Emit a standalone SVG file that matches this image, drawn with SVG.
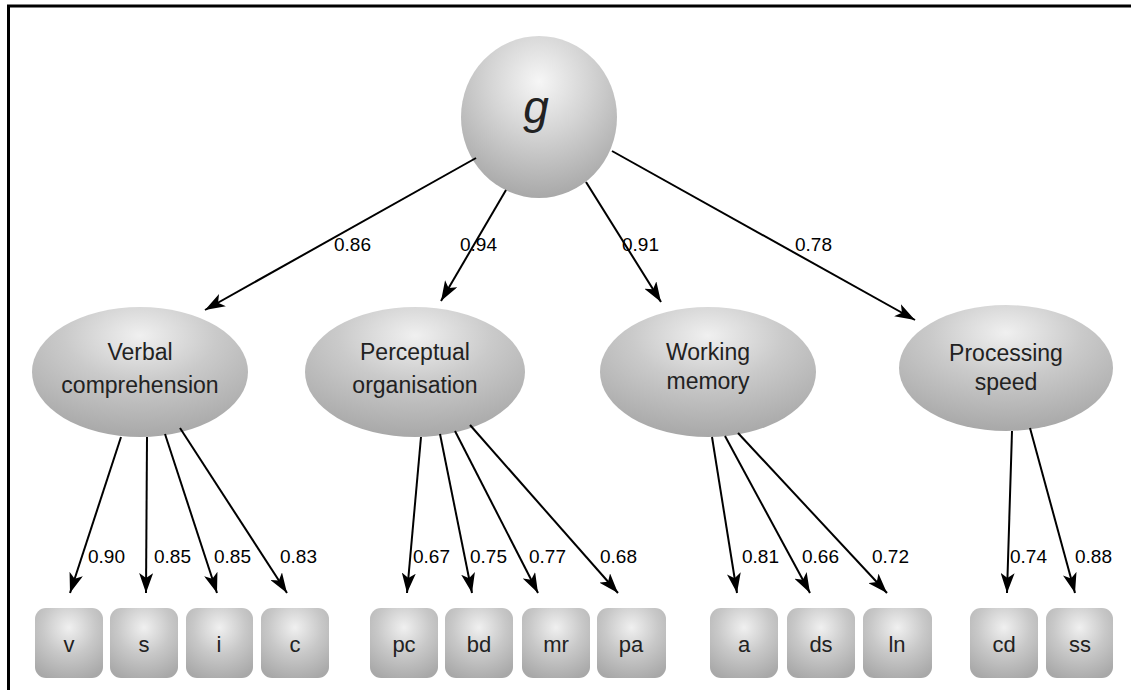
<svg xmlns="http://www.w3.org/2000/svg" width="1131" height="690" viewBox="0 0 1131 690">
<defs>
<radialGradient id="ballGrad" cx="50%" cy="28%" r="72%">
<stop offset="0" stop-color="#f6f6f6"/>
<stop offset="0.45" stop-color="#d4d4d4"/>
<stop offset="1" stop-color="#a8a8a8"/>
</radialGradient>
<radialGradient id="ellGrad" cx="50%" cy="22%" r="78%">
<stop offset="0" stop-color="#f0f0f0"/>
<stop offset="0.45" stop-color="#cacaca"/>
<stop offset="1" stop-color="#a8a8a8"/>
</radialGradient>
<radialGradient id="boxGrad" cx="50%" cy="28%" r="78%">
<stop offset="0" stop-color="#f0f0f0"/>
<stop offset="0.5" stop-color="#c8c8c8"/>
<stop offset="1" stop-color="#a8a8a8"/>
</radialGradient>
<marker id="arr" markerUnits="userSpaceOnUse" markerWidth="22" markerHeight="14" refX="20" refY="7" orient="auto">
<path d="M0,0 L20,7 L0,14 L5,7 Z" fill="#000"/>
</marker>
</defs>
<style>
.node-txt{font-family:"Liberation Sans",Arial,sans-serif;font-size:23px;fill:#222;text-anchor:middle}
.box-txt{font-family:"Liberation Sans",Arial,sans-serif;font-size:22px;fill:#222;text-anchor:middle}
.lbl{font-family:"Liberation Sans",Arial,sans-serif;font-size:19px;fill:#000}
.edge{stroke:#000;stroke-width:2;fill:none;marker-end:url(#arr)}
.ell{fill:url(#ellGrad)}
.box{fill:url(#boxGrad)}
</style>
<rect width="1131" height="690" fill="#fff"/>
<path d="M8.5,690 L8.5,6 L1131,6" fill="none" stroke="#000" stroke-width="3"/>

<g id="node-g">
<ellipse cx="539" cy="117" rx="78" ry="81" fill="url(#ballGrad)"/>
<text x="536" y="123" font-family="Liberation Sans, Arial, sans-serif" font-style="italic" font-size="46" fill="#222" text-anchor="middle">g</text>
</g>

<g id="node-verbal">
<ellipse class="ell" cx="140" cy="372" rx="108" ry="65"/>
<text class="node-txt" x="140" y="360">Verbal</text>
<text class="node-txt" x="140" y="393">comprehension</text>
</g>
<g id="node-perceptual">
<ellipse class="ell" cx="415" cy="372" rx="110" ry="65"/>
<text class="node-txt" x="415" y="360">Perceptual</text>
<text class="node-txt" x="415" y="393">organisation</text>
</g>
<g id="node-working">
<ellipse class="ell" cx="708" cy="372" rx="108" ry="65"/>
<text class="node-txt" x="708" y="360">Working</text>
<text class="node-txt" x="708" y="389">memory</text>
</g>
<g id="node-processing">
<ellipse class="ell" cx="1006" cy="368" rx="107" ry="63"/>
<text class="node-txt" x="1006" y="361">Processing</text>
<text class="node-txt" x="1006" y="390">speed</text>
</g>

<g id="node-v"><rect class="box" x="35" y="608" width="68" height="70" rx="11"/><text class="box-txt" x="69" y="652">v</text></g>
<g id="node-s"><rect class="box" x="110" y="608" width="68" height="70" rx="11"/><text class="box-txt" x="144" y="652">s</text></g>
<g id="node-i"><rect class="box" x="186" y="608" width="67" height="70" rx="11"/><text class="box-txt" x="219" y="652">i</text></g>
<g id="node-c"><rect class="box" x="261" y="608" width="68" height="70" rx="11"/><text class="box-txt" x="295" y="652">c</text></g>
<g id="node-pc"><rect class="box" x="370" y="608" width="68" height="70" rx="11"/><text class="box-txt" x="404" y="652">pc</text></g>
<g id="node-bd"><rect class="box" x="445" y="608" width="68" height="70" rx="11"/><text class="box-txt" x="479" y="652">bd</text></g>
<g id="node-mr"><rect class="box" x="522" y="608" width="68" height="70" rx="11"/><text class="box-txt" x="556" y="652">mr</text></g>
<g id="node-pa"><rect class="box" x="597" y="608" width="69" height="70" rx="11"/><text class="box-txt" x="631" y="652">pa</text></g>
<g id="node-a"><rect class="box" x="710" y="608" width="68" height="70" rx="11"/><text class="box-txt" x="744" y="652">a</text></g>
<g id="node-ds"><rect class="box" x="787" y="608" width="68" height="70" rx="11"/><text class="box-txt" x="821" y="652">ds</text></g>
<g id="node-ln"><rect class="box" x="863" y="608" width="69" height="70" rx="11"/><text class="box-txt" x="897" y="652">ln</text></g>
<g id="node-cd"><rect class="box" x="970" y="608" width="68" height="70" rx="11"/><text class="box-txt" x="1004" y="652">cd</text></g>
<g id="node-ss"><rect class="box" x="1046" y="608" width="67" height="70" rx="11"/><text class="box-txt" x="1080" y="652">ss</text></g>

<g id="connectors">
<line class="edge" x1="476" y1="158" x2="205" y2="310"/>
<line class="edge" x1="506" y1="190" x2="441" y2="301"/>
<line class="edge" x1="586" y1="182" x2="661" y2="302"/>
<line class="edge" x1="612" y1="151" x2="915" y2="320"/>

<line class="edge" x1="121" y1="437" x2="70" y2="593"/>
<line class="edge" x1="147" y1="437" x2="146" y2="593"/>
<line class="edge" x1="165" y1="434" x2="217" y2="593"/>
<line class="edge" x1="180" y1="428" x2="287" y2="593"/>

<line class="edge" x1="421" y1="437" x2="407" y2="593"/>
<line class="edge" x1="440" y1="434" x2="472" y2="593"/>
<line class="edge" x1="455" y1="431" x2="538" y2="593"/>
<line class="edge" x1="470" y1="425" x2="618" y2="593"/>

<line class="edge" x1="712" y1="437" x2="737" y2="593"/>
<line class="edge" x1="725" y1="436" x2="810" y2="593"/>
<line class="edge" x1="738" y1="433" x2="887" y2="593"/>

<line class="edge" x1="1012" y1="431" x2="1007" y2="593"/>
<line class="edge" x1="1030" y1="428" x2="1075" y2="593"/>

<text class="lbl" x="334" y="251">0.86</text>
<text class="lbl" x="460" y="251">0.94</text>
<text class="lbl" x="622" y="251">0.91</text>
<text class="lbl" x="795" y="251">0.78</text>

<text class="lbl" x="88" y="563">0.90</text>
<text class="lbl" x="154" y="563">0.85</text>
<text class="lbl" x="214" y="563">0.85</text>
<text class="lbl" x="280" y="563">0.83</text>
<text class="lbl" x="413" y="563">0.67</text>
<text class="lbl" x="470" y="563">0.75</text>
<text class="lbl" x="529" y="563">0.77</text>
<text class="lbl" x="600" y="563">0.68</text>
<text class="lbl" x="742" y="563">0.81</text>
<text class="lbl" x="802" y="563">0.66</text>
<text class="lbl" x="872" y="563">0.72</text>
<text class="lbl" x="1010" y="563">0.74</text>
<text class="lbl" x="1075" y="563">0.88</text>
</g>
</svg>
